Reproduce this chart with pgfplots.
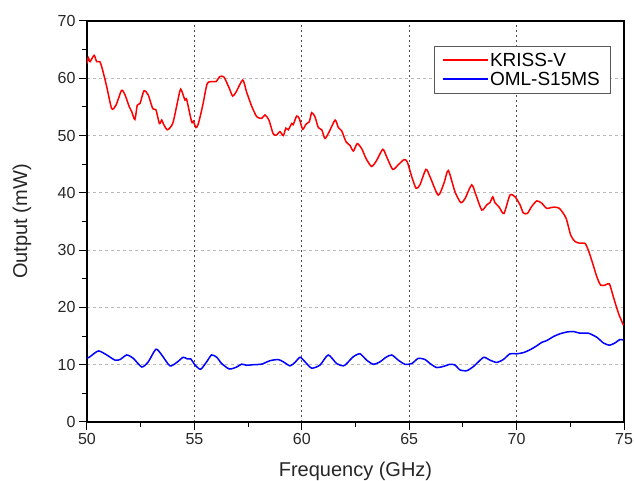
\documentclass[border=0pt]{standalone}
\usepackage{fontspec}
\setmainfont{Liberation Sans}
\usepackage{pgfplots}
\pgfplotsset{compat=1.18}
\begin{document}
\begin{tikzpicture}
\begin{axis}[
 scale only axis, width=537pt, height=401pt,
 xmin=50, xmax=75, ymin=0, ymax=70,
 xtick={50,55,...,75}, ytick={0,10,...,70},
 minor x tick num=1, minor y tick num=1,
 tick align=outside, tick pos=left,
 major tick length=8pt, minor tick length=5pt,
 every tick/.style={black, line width=1pt},
 axis line style={line width=1.6pt},
 /pgf/number format/assume math mode=true,
 ticklabel style={font=\fontsize{16}{18}\selectfont, text=black!85},
 label style={font=\fontsize{20}{24}\selectfont, text=black!85},
 xlabel={Frequency (GHz)}, ylabel={Output (mW)},
 xlabel style={at={(axis description cs:0.5,-0.122)}, anchor=center},
 ylabel style={at={(axis description cs:-0.121,0.5)}, anchor=center},
 grid=major,
 x grid style={gray!60!black, dash pattern=on 2pt off 3pt, line width=0.8pt},
 y grid style={gray!55, dash pattern=on 3pt off 3pt, line width=1pt},
 legend style={at={(rel axis cs:0.974,0.938)}, anchor=north east, draw=gray!70!black, font=\fontsize{19}{24}\selectfont, inner xsep=8pt, inner ysep=5pt},
 legend cell align=left,
 legend image code/.code={\draw[#1] plot coordinates {(0pt,0.3pt) (22pt,0.3pt) (44pt,0.3pt)};},
]
\coordinate (ll) at (rel axis cs:0,0);
\coordinate (ur) at (rel axis cs:1,1);
\addplot[color=red, line width=1.5pt, smooth, tension=0.4] coordinates {
(50.0,62.6)(50.06,63.6)(50.14,62.9)(50.33,64.0)(50.45,62.9)(50.6,62.9)(50.73,61.4)(50.92,58.5)
(51.15,54.7)(51.35,55.3)(51.61,57.9)(51.77,57.1)(51.97,55.0)(52.08,54.2)(52.23,52.8)(52.34,55.3)
(52.47,55.6)(52.65,57.8)(52.85,57.1)(53.06,54.7)(53.21,54.5)(53.37,52.1)(53.48,52.7)(53.55,52.1)
(53.74,51.0)(53.99,52.1)(54.2,55.6)(54.36,58.1)(54.56,56.2)(54.64,56.3)(54.87,52.4)(54.95,52.5)
(55.07,51.4)(55.18,52.0)(55.39,55.3)(55.6,59.1)(55.88,59.4)(56.0,59.4)(56.19,60.3)(56.38,60.2)
(56.63,58.2)(56.78,56.9)(56.94,57.6)(57.25,59.7)(57.43,57.6)(57.67,55.1)(57.9,53.3)(58.13,53.0)
(58.29,53.6)(58.47,52.7)(58.67,50.3)(58.83,50.1)(58.98,50.7)(59.14,50.0)(59.26,51.3)(59.37,51.0)
(59.53,52.1)(59.6,51.9)(59.76,53.4)(59.88,53.0)(60.04,51.1)(60.2,52.0)(60.35,52.4)(60.46,54.0)
(60.61,53.3)(60.77,51.4)(60.93,51.0)(61.08,49.5)(61.28,50.7)(61.55,52.7)(61.7,51.4)(61.86,50.8)
(62.06,48.9)(62.24,48.3)(62.4,47.3)(62.58,48.6)(62.79,47.7)(62.99,46.0)(63.25,44.6)(63.49,45.7)
(63.77,47.6)(63.95,46.3)(64.23,44.1)(64.49,44.9)(64.76,45.8)(64.91,45.4)(65.12,42.8)(65.32,40.8)
(65.5,41.4)(65.78,44.1)(65.97,42.8)(66.35,39.6)(66.62,41.7)(66.82,43.9)(67.13,40.2)(67.4,38.3)
(67.6,39.0)(67.91,41.4)(68.11,39.6)(68.38,37.0)(68.61,37.9)(68.76,38.3)(68.89,39.3)(68.99,38.3)
(69.19,37.5)(69.41,36.4)(69.69,39.6)(69.93,39.3)(70.16,37.9)(70.31,36.5)(70.5,36.4)(70.7,37.6)
(70.94,38.6)(71.17,38.2)(71.4,37.3)(71.71,37.5)(71.99,37.3)(72.3,35.6)(72.52,32.6)(72.72,31.5)
(72.95,31.2)(73.18,31.2)(73.34,30.0)(73.54,27.7)(73.73,25.4)(73.91,23.9)(74.12,23.9)(74.32,24.1)
(74.5,21.9)(74.74,19.0)(74.97,16.9)
};
\addlegendentry{KRISS-V}
\addplot[color=blue, line width=1.5pt, smooth, tension=0.4] coordinates {
(50.0,11.1)(50.14,11.4)(50.53,12.4)(50.92,11.7)(51.3,10.8)(51.54,10.9)(51.85,11.7)(52.16,11.1)
(52.55,9.6)(52.85,10.5)(53.21,12.7)(53.48,11.7)(53.86,9.8)(54.18,10.4)(54.48,11.3)(54.67,11.0)
(54.83,11.0)(55.03,9.95)(55.29,9.2)(55.57,10.5)(55.8,11.7)(56.04,11.3)(56.27,10.2)(56.63,9.25)
(56.97,9.6)(57.2,10.1)(57.43,9.9)(57.74,10.0)(58.13,10.1)(58.52,10.7)(58.9,10.9)(59.14,10.5)
(59.45,9.8)(59.68,10.4)(59.92,11.3)(60.15,10.5)(60.46,9.4)(60.85,9.95)(61.23,11.7)(61.62,10.2)
(61.93,9.8)(62.09,10.2)(62.4,11.4)(62.71,11.9)(63.02,10.8)(63.33,10.07)(63.64,10.5)(63.92,11.3)
(64.19,11.7)(64.49,10.8)(64.8,10.07)(65.12,10.2)(65.42,11.1)(65.74,10.9)(65.97,10.2)(66.28,9.5)
(66.59,9.7)(66.9,10.07)(67.13,9.95)(67.36,9.1)(67.68,8.95)(67.98,9.65)(68.22,10.5)(68.48,11.3)
(68.76,10.8)(69.07,10.4)(69.38,10.9)(69.69,11.9)(70.0,11.9)(70.31,12.1)(70.62,12.6)(70.94,13.3)
(71.17,13.9)(71.4,14.2)(71.71,14.9)(72.02,15.4)(72.33,15.7)(72.64,15.8)(72.95,15.5)(73.34,15.5)
(73.73,14.8)(74.04,13.8)(74.32,13.4)(74.58,13.8)(74.81,14.4)(74.97,14.3)
};
\addlegendentry{OML-S15MS}
\end{axis}
\pgfresetboundingbox
\path ([shift={(-87pt,-59pt)}]ll) rectangle ([shift={(10pt,21pt)}]ur);
\end{tikzpicture}
\end{document}
